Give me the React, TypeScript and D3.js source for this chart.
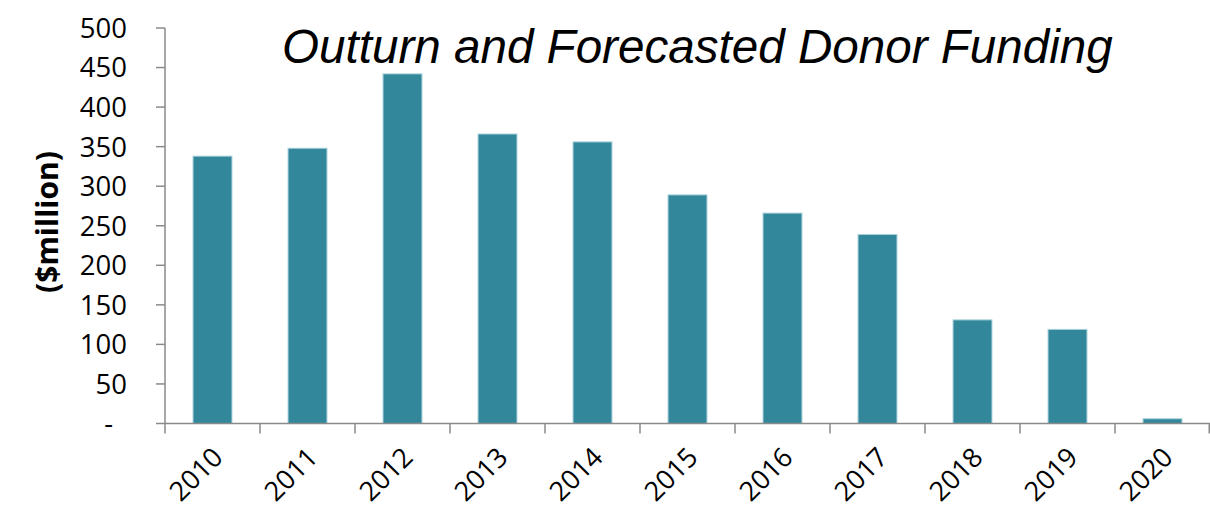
import React from "react";
import * as d3 from "d3";

const years = ["2010","2011","2012","2013","2014","2015","2016","2017","2018","2019","2020"];
const funding = [338, 348, 442, 366, 356, 289, 266, 239, 131, 119, 6];
const yTicks = [0, 50, 100, 150, 200, 250, 300, 350, 400, 450, 500];
const yTickLabels = ["-", "50", "100", "150", "200", "250", "300", "350", "400", "450", "500"];
const title = "Outturn and Forecasted Donor Funding";
const yTitle = "($million)";

const W = 1210, H = 512;
const left = 165, right = 1210, top = 28, bottom = 423.5;

export default function App() {
  const x = d3.scaleBand<string>().domain(years).range([left, right]).paddingInner(0.59).paddingOuter(0.295);
  const y = d3.scaleLinear().domain([0, 500]).range([bottom, top]);
  const step = x.step();
  const axisColor = "#8a8a8a";
  const tickFont = "'Open Sans', 'Noto Sans', sans-serif";
  return (
    <svg width={W} height={H} style={{ position: "absolute", left: 0, top: 0, background: "#fff" }}>
      {funding.map((v, i) => (
        <rect key={years[i]} x={x(years[i])!} y={y(v)} width={x.bandwidth()} height={bottom - y(v)}
          fill="#33879b" stroke="#a9d2dc" strokeWidth={1} />
      ))}
      {/* y axis */}
      <line x1={left} x2={left} y1={top} y2={bottom} stroke={axisColor} strokeWidth={1.5} />
      {yTicks.map((t, i) => (
        <g key={t}>
          <line x1={left - 9} x2={left} y1={y(t)} y2={y(t)} stroke={axisColor} strokeWidth={1.5} />
          <text x={t === 0 ? 113 : 127} y={y(t)} dy="0.36em" textAnchor="end" fontSize={27.5}
            fontFamily={tickFont} fill="#000">{yTickLabels[i]}</text>
        </g>
      ))}
      {/* x axis */}
      <line x1={left} x2={right} y1={bottom} y2={bottom} stroke={axisColor} strokeWidth={1.5} />
      {years.map((yr, i) => (
        <line key={"t" + yr} x1={left + i * step} x2={left + i * step} y1={bottom} y2={bottom + 10}
          stroke={axisColor} strokeWidth={1.5} />
      ))}
      <line x1={right - 0.75} x2={right - 0.75} y1={bottom} y2={bottom + 10} stroke={axisColor} strokeWidth={1.5} />
      {years.map((yr) => {
        const cx = x(yr)! + x.bandwidth() / 2 + 12;
        const cy = 459;
        return (
          <text key={"l" + yr} x={cx} y={cy} textAnchor="end" fontSize={27} fontFamily={tickFont}
            fill="#000" transform={`rotate(-45 ${cx} ${cy})`}>{yr}</text>
        );
      })}
      <text x={282} y={63} fontSize={47.6} fontStyle="italic" fontFamily="'Liberation Sans', Arial, sans-serif"
        fill="#000">{title}</text>
      <text transform="translate(58 222) rotate(-90)" textAnchor="middle" fontSize={30} fontWeight="bold"
        fontFamily="'Open Sans', 'Noto Sans', sans-serif" fill="#000">{yTitle}</text>
    </svg>
  );
}
